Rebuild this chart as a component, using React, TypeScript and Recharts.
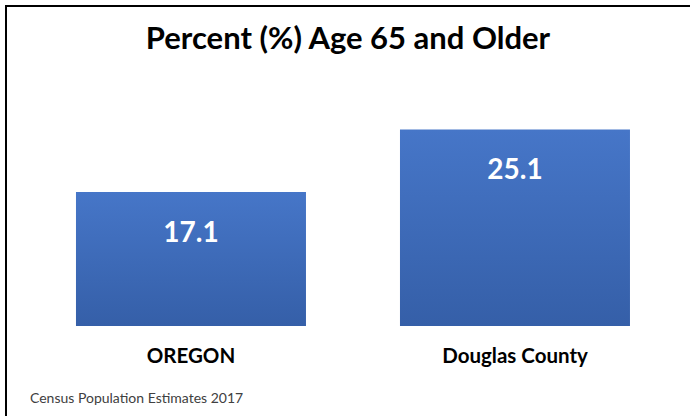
import { BarChart, Bar, XAxis, YAxis, LabelList } from 'recharts';

const categories = ['OREGON', 'Douglas County'];
const percentAge65Plus = [17.1, 25.1];
const chartTitle = 'Percent (%) Age 65 and Older';
const sourceNote = 'Census Population Estimates 2017';

const data = categories.map((name, i) => ({ name, value: percentAge65Plus[i] }));

const FONT = 'Lato, "Open Sans", sans-serif';

function CategoryTick({ x, y, payload }: any) {
  return (
    <text x={x} y={y} dy={29} textAnchor="middle" fontFamily={FONT} fontWeight={700} fontSize={20.5} fill="#000">
      {payload.value}
    </text>
  );
}

function ValueLabel({ x, y, width, value }: any) {
  return (
    <text
      x={x + width / 2}
      y={y + 39}
      textAnchor="middle"
      dominantBaseline="central"
      fontFamily={FONT}
      fontWeight={700}
      fontSize={28}
      fill="#fff"
    >
      {value}
    </text>
  );
}

export default function App() {
  return (
    <div style={{ position: 'absolute', left: 0, top: 0, width: 690, height: 416, background: '#fff', overflow: 'hidden' }}>
      <div
        style={{
          position: 'absolute',
          left: 5,
          top: 5,
          width: 685,
          height: 411,
          borderTop: '2px solid #000',
          borderLeft: '2px solid #000',
          boxSizing: 'border-box',
        }}
      />
      <BarChart
        width={690}
        height={416}
        data={data}
        margin={{ top: 91, right: 13, bottom: 60, left: 29 }}
        barCategoryGap="14.5%"
      >
        <defs>
          <linearGradient id="barFill" x1="0" y1="0" x2="0" y2="1">
            <stop offset="0%" stopColor="#4676C8" />
            <stop offset="100%" stopColor="#355FA8" />
          </linearGradient>
        </defs>
        <XAxis dataKey="name" axisLine={false} tickLine={false} tick={<CategoryTick />} interval={0} />
        <YAxis hide width={0} domain={[0, 30]} />
        <Bar dataKey="value" fill="url(#barFill)" isAnimationActive={false}>
          <LabelList dataKey="value" content={<ValueLabel />} />
        </Bar>
      </BarChart>
      <svg width={690} height={416} style={{ position: 'absolute', left: 0, top: 0, pointerEvents: 'none' }}>
        <text x={348} y={49} textAnchor="middle" fontFamily={FONT} fontWeight={700} fontSize={31} fill="#000">
          {chartTitle}
        </text>
        <text x={30} y={403} fontFamily={FONT} fontSize={14} fill="#404040">
          {sourceNote}
        </text>
      </svg>
    </div>
  );
}
